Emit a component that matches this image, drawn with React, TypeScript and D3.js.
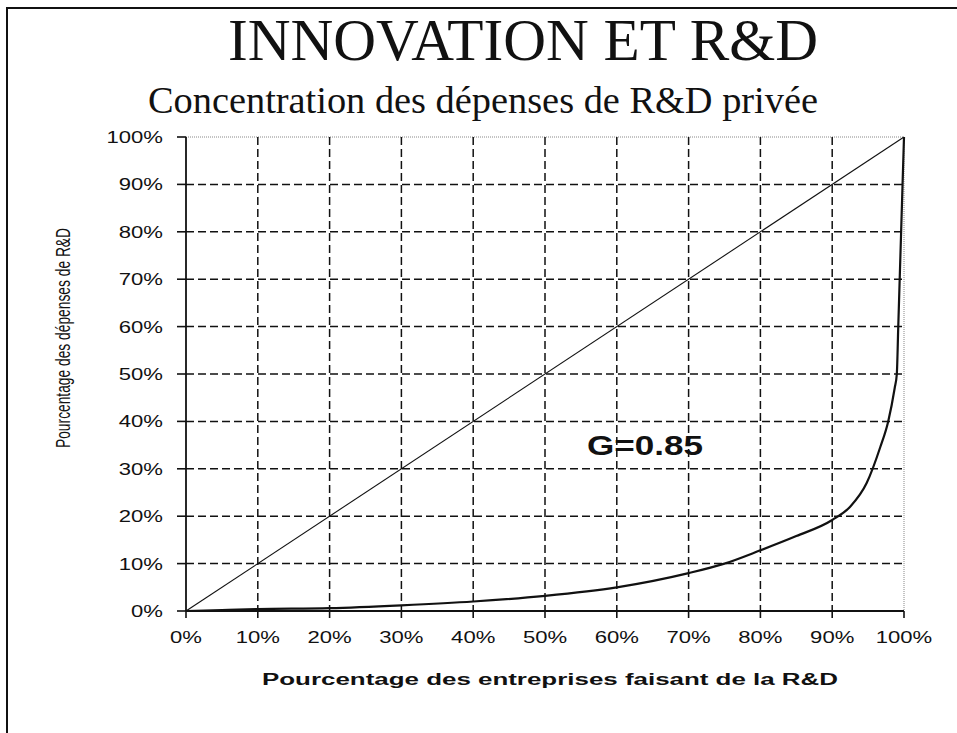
import React from "react";
import * as d3 from "d3";

const TITLE = "INNOVATION ET R&D";
const SUBTITLE = "Concentration des dépenses de R&D privée";
const X_TITLE = "Pourcentage des entreprises faisant de la R&D";
const Y_TITLE = "Pourcentage des dépenses de R&D";
const GINI_LABEL = "G=0.85";

const tickValues = [0, 0.1, 0.2, 0.3, 0.4, 0.5, 0.6, 0.7, 0.8, 0.9, 1.0];
const tickLabels = ["0%", "10%", "20%", "30%", "40%", "50%", "60%", "70%", "80%", "90%", "100%"];

// Lorenz curve: share of firms (x) vs share of R&D spending (y)
const firmsShare = [0, 0.05, 0.1, 0.2, 0.3, 0.4, 0.5, 0.6, 0.7, 0.75, 0.8, 0.85, 0.9, 0.925, 0.948, 0.967, 0.978, 0.987, 0.99, 0.992, 0.995, 0.998, 1.0];
const spendShare = [0, 0.002, 0.004, 0.006, 0.012, 0.02, 0.032, 0.05, 0.08, 0.10, 0.128, 0.158, 0.192, 0.22, 0.27, 0.346, 0.40, 0.47, 0.50, 0.60, 0.75, 0.90, 1.0];

// Equality line
const equalityX = [0, 1];
const equalityY = [0, 1];

const W = 957;
const H = 733;
const X0 = 186, X1 = 904, Y0 = 611, Y1 = 137;
const STRETCH = 1.3;

export default function App() {
  const x = d3.scaleLinear().domain([0, 1]).range([X0, X1]);
  const y = d3.scaleLinear().domain([0, 1]).range([Y0, Y1]);

  const line = d3
    .line<[number, number]>()
    .x((d) => x(d[0]))
    .y((d) => y(d[1]))
    .curve(d3.curveMonotoneX);
  const lorenz = line(firmsShare.map((v, i) => [v, spendShare[i]] as [number, number])) || "";
  const eq = d3
    .line<[number, number]>()
    .x((d) => x(d[0]))
    .y((d) => y(d[1]))(equalityX.map((v, i) => [v, equalityY[i]] as [number, number])) || "";

  const sans = "'Liberation Sans', Arial, sans-serif";
  const serif = "'Liberation Serif', 'Times New Roman', serif";

  return (
    <svg
      width={W}
      height={H}
      viewBox={`0 0 ${W} ${H}`}
      style={{ position: "absolute", left: 0, top: 0, background: "#fff" }}
    >
      <rect x={0} y={0} width={W} height={H} fill="#fff" />
      {/* slide frame */}
      <line x1={7} y1={8} x2={7} y2={H} stroke="#111" strokeWidth={2} />
      <line x1={6} y1={8} x2={W} y2={8} stroke="#111" strokeWidth={2} />

      {/* titles */}
      <text x={228} y={60} fontFamily={serif} fontSize={60} fill="#111" textLength={590} lengthAdjust="spacingAndGlyphs">
        {TITLE}
      </text>
      <text x={148} y={113} fontFamily={serif} fontSize={37} fill="#111" textLength={670} lengthAdjust="spacingAndGlyphs">
        {SUBTITLE}
      </text>

      {/* plot border top/right (dotted grey) */}
      <line x1={X0} y1={Y1} x2={X1} y2={Y1} stroke="#888" strokeWidth={1} strokeDasharray="1,1" />
      <line x1={X1} y1={Y1} x2={X1} y2={Y0} stroke="#888" strokeWidth={1} strokeDasharray="1,1" />

      {/* gridlines */}
      {tickValues.slice(1, -1).map((t) => (
        <line key={"gx" + t} x1={x(t)} y1={Y1} x2={x(t)} y2={Y0} stroke="#111" strokeWidth={1.5} strokeDasharray="8,4" />
      ))}
      {tickValues.slice(1, -1).map((t) => (
        <line key={"gy" + t} x1={X0} y1={y(t)} x2={X1} y2={y(t)} stroke="#111" strokeWidth={1.5} strokeDasharray="8,4" />
      ))}

      {/* axes */}
      <line x1={X0} y1={Y1} x2={X0} y2={Y0} stroke="#111" strokeWidth={1.8} />
      <line x1={X0} y1={Y0} x2={X1} y2={Y0} stroke="#111" strokeWidth={1.8} />
      {tickValues.map((t) => (
        <line key={"ty" + t} x1={X0 - 9} y1={y(t)} x2={X0} y2={y(t)} stroke="#111" strokeWidth={1.6} />
      ))}
      {tickValues.map((t) => (
        <line key={"tx" + t} x1={x(t)} y1={Y0} x2={x(t)} y2={Y0 + 7} stroke="#111" strokeWidth={1.6} />
      ))}

      {/* tick labels */}
      {tickValues.map((t, i) => (
        <g key={"ly" + t} transform={`translate(${163},${y(t) + 6}) scale(${STRETCH},1)`}>
          <text textAnchor="end" fontFamily={sans} fontSize={17} fill="#111">
            {tickLabels[i]}
          </text>
        </g>
      ))}
      {tickValues.map((t, i) => (
        <g key={"lx" + t} transform={`translate(${x(t)},${643}) scale(${STRETCH},1)`}>
          <text textAnchor="middle" fontFamily={sans} fontSize={17} fill="#111">
            {tickLabels[i]}
          </text>
        </g>
      ))}

      {/* series */}
      <path d={eq} fill="none" stroke="#111" strokeWidth={1.1} />
      <path d={lorenz} fill="none" stroke="#111" strokeWidth={2.2} />

      {/* Gini label */}
      <g transform={`translate(${587},${455}) scale(${STRETCH},1)`}>
        <text fontFamily={sans} fontWeight="bold" fontSize={27} fill="#111">
          {GINI_LABEL}
        </text>
      </g>

      {/* axis titles */}
      <text x={550} y={685} textAnchor="middle" fontFamily={sans} fontWeight="bold" fontSize={16} fill="#111" textLength={576} lengthAdjust="spacingAndGlyphs">
        {X_TITLE}
      </text>
      <g transform={`translate(${70},${338}) rotate(-90) scale(1,${STRETCH})`}>
        <text textAnchor="middle" fontFamily={sans} fontSize={15} fill="#111" textLength={220} lengthAdjust="spacingAndGlyphs">
          {Y_TITLE}
        </text>
      </g>
    </svg>
  );
}
